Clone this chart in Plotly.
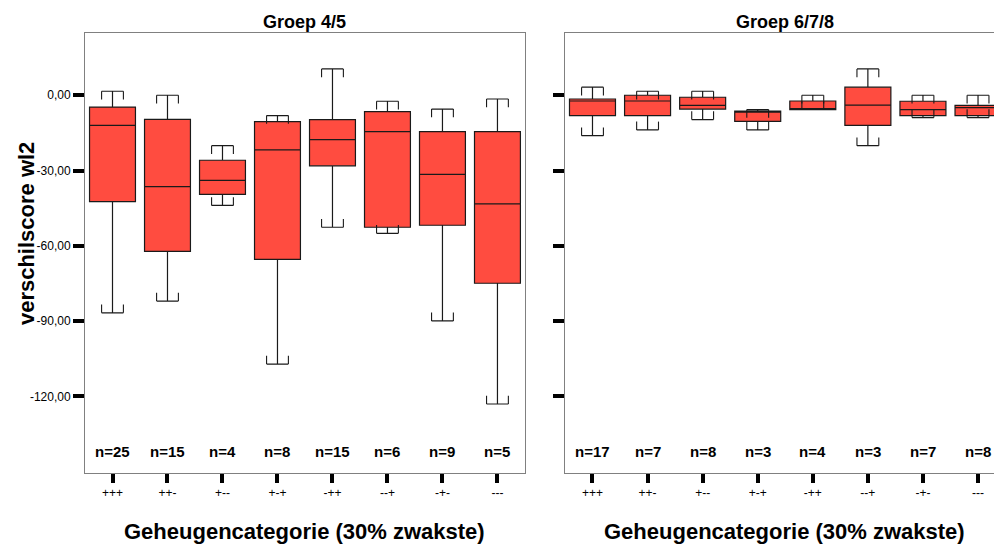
import plotly.graph_objects as go

categories = ["+++", "++-", "+--", "+-+", "-++", "--+", "-+-", "---"]

# Groep 4/5
g45_upper = [1.6, 0.0, -20.1, -8.1, 10.5, -2.4, -5.5, -1.5]
g45_q3 = [-4.7, -9.6, -25.9, -10.5, -9.7, -6.5, -14.5, -14.5]
g45_median = [-12.0, -36.4, -33.9, -21.8, -17.7, -14.5, -31.5, -43.3]
g45_q1 = [-42.4, -62.2, -39.5, -65.4, -28.1, -52.6, -51.8, -74.9]
g45_lower = [-86.7, -82.0, -43.9, -107.1, -52.6, -55.0, -89.9, -123.0]
g45_n = [25, 15, 4, 8, 15, 6, 9, 5]

# Groep 6/7/8
g678_upper = [3.2, 1.6, 1.6, -5.7, 0.0, 10.5, 0.0, 0.0]
g678_q3 = [-1.5, 0.0, -0.8, -6.3, -2.3, 3.2, -2.4, -4.0]
g678_median = [-2.3, -2.3, -4.0, -6.3, -5.7, -3.9, -5.7, -4.9]
g678_q1 = [-8.1, -8.1, -5.5, -10.4, -5.7, -12.0, -8.1, -8.1]
g678_lower = [-16.1, -13.8, -9.7, -13.8, -5.7, -20.1, -8.9, -8.9]
g678_n = [17, 7, 8, 3, 4, 3, 7, 8]

y_tickvals = [0, -30, -60, -90, -120]
y_ticktext = ["0,00", "-30,00", "-60,00", "-90,00", "-120,00"]

panel_titles = ["Groep 4/5", "Groep 6/7/8"]
x_title = "Geheugencategorie (30% zwakste)"
y_title = "verschilscore wl2"

FONT = "Liberation Sans, Arial, sans-serif"
FILL = "rgb(255,76,64)"
LINE = "#1a1a1a"
BOX_W = 0.835
WHISK_W = 0.475
CAP_TICK = 3.3
Y_RANGE = [-150.5, 24.8]
N_Y = -141.9

xs = list(range(len(categories)))

fig = go.Figure()


def add_panel(upper, q3, med, q1, lower, n, xa, ya):
    fig.add_trace(go.Box(
        x=xs, q1=q1, median=med, q3=q3, lowerfence=lower, upperfence=upper,
        width=BOX_W, whiskerwidth=WHISK_W, fillcolor=FILL,
        line=dict(color=LINE, width=1.2), boxpoints=False,
        xaxis=xa, yaxis=ya, hoverinfo="skip", showlegend=False,
    ))
    half = BOX_W * WHISK_W / 2
    bx, by = [], []
    for i in xs:
        for cap, d in ((upper[i], -CAP_TICK), (lower[i], CAP_TICK)):
            for sx in (-half, half):
                bx += [i + sx, i + sx, None]
                by += [cap, cap + d, None]
    fig.add_trace(go.Scatter(
        x=bx, y=by, mode="lines", line=dict(color=LINE, width=1.1),
        xaxis=xa, yaxis=ya, hoverinfo="skip", showlegend=False,
    ))
    for i in xs:
        fig.add_annotation(
            x=i, y=N_Y, xref=xa, yref=ya, text=f"<b>n={n[i]}</b>",
            showarrow=False, font=dict(family=FONT, size=15, color="black"),
            xanchor="center", yanchor="middle",
        )


add_panel(g45_upper, g45_q3, g45_median, g45_q1, g45_lower, g45_n, "x", "y")
add_panel(g678_upper, g678_q3, g678_median, g678_q1, g678_lower, g678_n, "x2", "y2")

axis_common = dict(
    showgrid=False, zeroline=False, showline=True, linecolor="#808080",
    linewidth=1, ticks="outside", tickcolor="black", tickwidth=4,
)

d1 = [0, 0.484]
d2 = [0.528, 1]

fig.update_layout(
    width=994, height=544,
    margin=dict(l=85, r=0, t=33, b=71),
    paper_bgcolor="white", plot_bgcolor="white",
    font=dict(family=FONT, color="black"),
    showlegend=False,
    xaxis=dict(domain=d1, range=[-0.5, 7.5], tickvals=xs, ticktext=categories,
               ticklen=9, mirror=True, tickfont=dict(size=12), anchor="y",
               **axis_common),
    yaxis=dict(domain=[0, 1], range=Y_RANGE, tickvals=y_tickvals,
               ticktext=y_ticktext, ticklen=11, mirror=True,
               tickfont=dict(size=12), anchor="x", **axis_common),
    xaxis2=dict(domain=d2, range=[-0.5, 7.29], tickvals=xs, ticktext=categories,
                ticklen=9, mirror=True, tickfont=dict(size=12), anchor="y2",
                **axis_common),
    yaxis2=dict(domain=[0, 1], range=Y_RANGE, tickvals=y_tickvals,
                showticklabels=False, ticklen=11, mirror=False, anchor="x2",
                **axis_common),
)

# panel titles and x titles
for title, dom in zip(panel_titles, (d1, [d2[0], d2[0] + (d1[1] - d1[0])])):
    fig.add_annotation(
        x=(dom[0] + dom[1]) / 2, y=1, xref="paper", yref="paper",
        text=f"<b>{title}</b>", showarrow=False, xanchor="center",
        yanchor="bottom", yshift=-1, font=dict(family=FONT, size=18, color="black"),
    )
    fig.add_annotation(
        x=(dom[0] + dom[1]) / 2, y=-0.134, xref="paper", yref="paper",
        text=f"<b>{x_title}</b>", showarrow=False, xanchor="center",
        yanchor="middle", font=dict(family=FONT, size=22, color="black"),
    )

fig.add_annotation(
    x=-0.0649, y=0.543, xref="paper", yref="paper", text=f"<b>{y_title}</b>",
    showarrow=False, textangle=-90, xanchor="center", yanchor="middle",
    font=dict(family=FONT, size=22, color="black"),
)

fig.write_html("out.html")
